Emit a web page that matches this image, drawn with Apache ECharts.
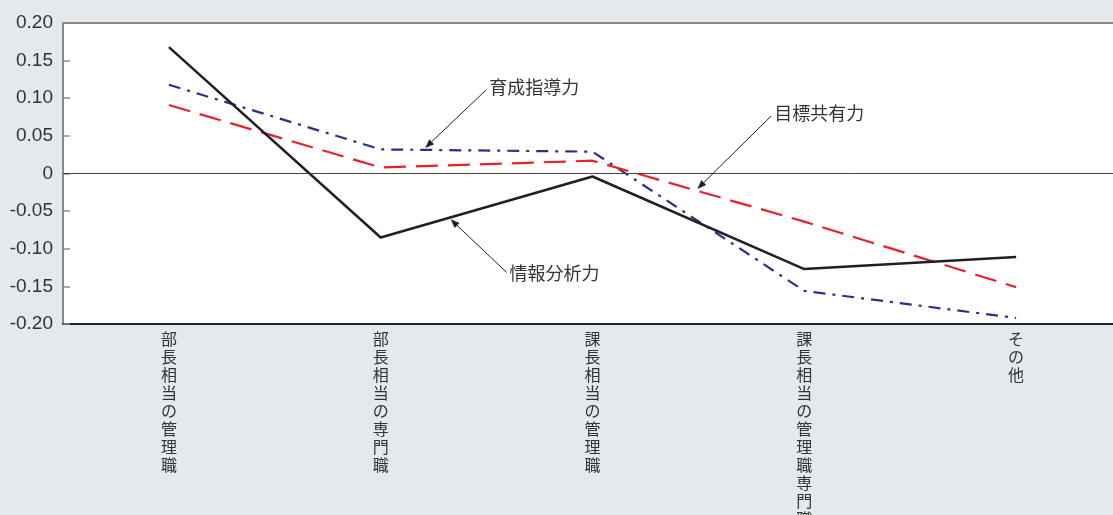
<!DOCTYPE html>
<html>
<head>
<meta charset="utf-8">
<script src="https://cdn.jsdelivr.net/npm/echarts@6/dist/echarts.min.js"></script>
<style>
  html, body { margin: 0; padding: 0; background: #e3e9ec; }
  #chart { width: 1113px; height: 515px; }
</style>
</head>
<body>
<div id="chart"></div>
<script>
const categories = ["部長相当の管理職", "部長相当の専門職", "課長相当の管理職", "課長相当の管理職専門職", "その他"];
const joho = [0.168, -0.085, -0.004, -0.127, -0.111];   // 情報分析力
const ikusei = [0.118, 0.032, 0.029, -0.156, -0.192];  // 育成指導力
const mokuhyo = [0.091, 0.008, 0.017, -0.064, -0.151]; // 目標共有力
const seriesNames = ["情報分析力", "育成指導力", "目標共有力"];

const font = '"Liberation Sans", "Noto Sans CJK JP", sans-serif';
const chart = echarts.init(document.getElementById("chart"));

const option = {
  backgroundColor: "#e3e9ec",
  animation: false,
  grid: {
    left: 63, right: -9, top: 23, bottom: 191,
    containLabel: false, outerBoundsMode: "none",
    show: true, backgroundColor: "#fff", borderColor: "#8a8a8a", borderWidth: 2
  },
  xAxis: {
    type: "category",
    data: categories,
    boundaryGap: true,
    axisLine: { onZero: false, lineStyle: { color: "#222", width: 2 } },
    axisTick: { show: false },
    axisLabel: {
      interval: 0, margin: 8, fontSize: 16, lineHeight: 18, color: "#333",
      fontFamily: font,
      formatter: function (v) { return v.split("").join("\n"); }
    },
    splitLine: { show: false }
  },
  yAxis: {
    type: "value",
    min: -0.2, max: 0.2, interval: 0.05,
    axisLine: { show: true, lineStyle: { color: "#8a8a8a", width: 2 } },
    axisTick: { show: true, inside: true, length: 7, lineStyle: { color: "#8a8a8a", width: 1.5 } },
    axisLabel: {
      margin: 10, fontSize: 19, color: "#333", fontFamily: font,
      formatter: function (v) { return Math.abs(v) < 1e-9 ? "0" : v.toFixed(2); }
    },
    splitLine: { show: false }
  },
  series: [
    {
      name: seriesNames[0], type: "line", data: joho, symbol: "none", z: 4,
      lineStyle: { color: "#231f20", width: 2.5 },
      markLine: {
        silent: true, symbol: "none", label: { show: false },
        lineStyle: { color: "#444", width: 1, type: "solid" },
        data: [{ yAxis: 0 }]
      }
    },
    {
      name: seriesNames[1], type: "line", data: ikusei, symbol: "none", z: 3,
      lineStyle: { color: "#2b2f8f", width: 2.2, type: [12, 7, 3, 7] }
    },
    {
      name: seriesNames[2], type: "line", data: mokuhyo, symbol: "none", z: 3,
      lineStyle: { color: "#e62129", width: 2.2, type: [22, 10] }
    }
  ]
};
chart.setOption(option);

// annotation: which series, position along category axis, label offset from arrow tip
const notes = [
  { s: 1, at: 1.21, dx: 64, dy: -59 },
  { s: 2, at: 2.495, dx: 77, dy: -74 },
  { s: 0, at: 1.33, dx: 59, dy: 56 }
];
const allData = [joho, ikusei, mokuhyo];
const graphics = [];
notes.forEach(function (n) {
  const d = allData[n.s];
  const i = Math.floor(n.at), f = n.at - i;
  const p0 = chart.convertToPixel({ seriesIndex: n.s }, [i, d[i]]);
  const p1 = chart.convertToPixel({ seriesIndex: n.s }, [i + 1, d[i + 1]]);
  const tx = p0[0] + (p1[0] - p0[0]) * f;
  const ty = p0[1] + (p1[1] - p0[1]) * f + (n.dy < 0 ? -2 : 2);
  const ex = tx + n.dx - 3, ey = ty + n.dy + (n.dy < 0 ? 1 : -3);
  const ang = Math.atan2(ey - ty, ex - tx);
  const L = 9, W = 3.5;
  const bx = tx + Math.cos(ang) * L, by = ty + Math.sin(ang) * L;
  const nx = -Math.sin(ang) * W, ny = Math.cos(ang) * W;
  graphics.push({
    type: "line", z: 10,
    shape: { x1: bx, y1: by, x2: ex, y2: ey },
    style: { stroke: "#222", lineWidth: 1 }
  });
  graphics.push({
    type: "polygon", z: 10,
    shape: { points: [[tx, ty], [bx + nx, by + ny], [bx - nx, by - ny]] },
    style: { fill: "#222" }
  });
  graphics.push({
    type: "text", z: 10,
    x: tx + n.dx, y: ty + n.dy,
    style: {
      text: seriesNames[n.s], fontSize: 18, fill: "#333", fontFamily: font,
      align: "left", verticalAlign: "middle"
    }
  });
});
chart.setOption({ graphic: graphics });
</script>
</body>
</html>
